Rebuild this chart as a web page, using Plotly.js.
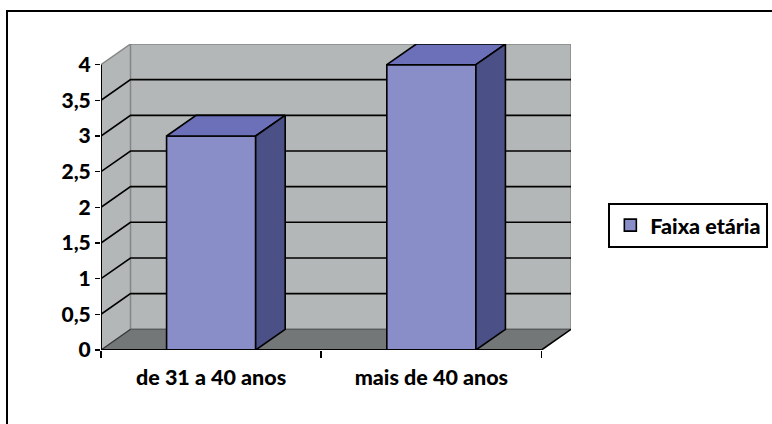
<!DOCTYPE html>
<html><head><meta charset="utf-8">
<script src="https://cdn.plot.ly/plotly-3.0.1.min.js"></script>
<style>
html,body{margin:0;padding:0;background:#fff;}
#chart{width:772px;height:424px;}
#frame{position:absolute;left:6px;top:10px;width:900px;height:600px;border-left:2px solid #000;border-top:2px solid #000;pointer-events:none;z-index:10;}
</style>
</head><body>
<div id="chart"></div><div id="frame"></div>
<script>
const categories = ['de 31 a 40 anos', 'mais de 40 anos'];
const values = [3, 4];
const seriesName = 'Faixa etária';
const yTickVals = [0, 0.5, 1, 1.5, 2, 2.5, 3, 3.5, 4];
const yTickText = ['0', '0,5', '1', '1,5', '2', '2,5', '3', '3,5', '4'];

// 3D projection settings (depth offset in axis units)
const DX = 0.134, DY = 0.29, BW = 0.4045;
const YMAX = yTickVals[yTickVals.length - 1];
const n = categories.length;
const x0 = -0.5, x1 = n - 0.5;
const idx = categories.map((c, i) => i);

const WALL = '#B4B7B7', WALLEDGE = '#858787', FLOOR = '#747777';
const FRONT = '#898DC8', TOP = '#6B70B8', SIDE = '#4B5086';
const FAM = 'Lato, "Open Sans", sans-serif';
const XFONT = {family: FAM, size: 21.5, color: '#000', weight: 900};
const YFONT = {family: FAM, size: 21, color: '#000', weight: 900};
const LFONT = {family: FAM, size: 21.5, color: '#000', weight: 900};

function pth(pts, close) {
  return 'M' + pts.map(p => p[0] + ',' + p[1]).join(' L') + (close ? ' Z' : '');
}
function shp(pts, close, fill, lc, lw, layer) {
  return {type: 'path', xref: 'x', yref: 'y', path: pth(pts, close),
    fillcolor: fill || 'rgba(0,0,0,0)', line: {color: lc || 'rgba(0,0,0,0)', width: lw || 0},
    layer: layer || 'below'};
}

const shapes = [];
// left wall
shapes.push(shp([[x0, 0], [x0 + DX, DY], [x0 + DX, YMAX + DY], [x0, YMAX]], true, WALL, null, 0));
// back wall
shapes.push(shp([[x0 + DX, DY], [x1 + DX, DY], [x1 + DX, YMAX + DY], [x0 + DX, YMAX + DY]], true, WALL, WALLEDGE, 1.5));
// floor
shapes.push(shp([[x0, 0], [x1, 0], [x1 + DX, DY], [x0 + DX, DY]], true, FLOOR, null, 0));
// gridlines
yTickVals.filter(v => v > 0 && v < YMAX).forEach(v => {
  shapes.push(shp([[x0, v], [x0 + DX, v + DY], [x1 + DX, v + DY]], false, null, '#000', 1.6));
});
// wall top edge on left wall
shapes.push(shp([[x0, YMAX], [x0 + DX, YMAX + DY]], false, null, WALLEDGE, 1.5));
// floor edges
shapes.push(shp([[x0 + DX, DY], [x1 + DX, DY]], false, null, '#5a5c5c', 1.2));
shapes.push(shp([[x0, 0], [x0 + DX, DY]], false, null, '#333', 1.2));
shapes.push(shp([[x1, 0], [x1 + DX, DY]], false, null, '#000', 1.6));
// axis lines
shapes.push(shp([[x0, 0], [x0, YMAX]], false, null, '#000', 2, 'above'));
shapes.push(shp([[x0, 0], [x1, 0]], false, null, '#000', 2, 'above'));

const traces = [];
traces.push({
  type: 'bar', x: idx, y: values, width: BW, name: seriesName,
  marker: {color: FRONT, line: {color: '#000', width: 1.6}},
  hoverinfo: 'skip', showlegend: true
});
idx.forEach((c, i) => {
  const v = values[i], l = c - BW / 2, r = c + BW / 2;
  traces.push({
    type: 'scatter', mode: 'lines', fill: 'toself', fillcolor: TOP,
    x: [l, r, r + DX, l + DX, l], y: [v, v, v + DY, v + DY, v],
    line: {color: '#000', width: 1.6}, showlegend: false, hoverinfo: 'skip'
  });
  traces.push({
    type: 'scatter', mode: 'lines', fill: 'toself', fillcolor: SIDE,
    x: [r, r + DX, r + DX, r, r], y: [0, DY, v + DY, v, 0],
    line: {color: '#000', width: 1.6}, showlegend: false, hoverinfo: 'skip'
  });
});

const layout = {
  width: 772, height: 424,
  margin: {l: 101, r: 201, t: 44, b: 74, pad: 0, autoexpand: false},
  paper_bgcolor: '#fff', plot_bgcolor: 'rgba(0,0,0,0)',
  font: XFONT,
  showlegend: true,
  xaxis: {
    type: 'linear', range: [x0, x1 + DX], fixedrange: true,
    tickmode: 'array', tickvals: idx, ticktext: categories,
    ticks: '', showgrid: false, zeroline: false, showline: false,
    tickfont: XFONT, ticklabelstandoff: 12,
    minor: {tickmode: 'array', tickvals: idx.map(i => i - 0.5).concat([n - 0.5]),
      ticks: 'outside', ticklen: 7, tickwidth: 1.6, tickcolor: '#000', showgrid: false}
  },
  yaxis: {
    range: [0, YMAX + DY], fixedrange: true,
    tickmode: 'array', tickvals: yTickVals, ticktext: yTickText,
    ticks: 'outside', ticklen: 5, tickwidth: 1.6, tickcolor: '#000',
    showgrid: false, zeroline: false, showline: false, tickfont: YFONT
  },
  legend: {
    xref: 'container', yref: 'container',
    x: 0.788, y: 0.522, xanchor: 'left', yanchor: 'top',
    bordercolor: '#000', borderwidth: 2, bgcolor: '#fff', font: LFONT,
    itemwidth: 30
  },
  shapes: shapes
};

Plotly.newPlot('chart', traces, layout, {staticPlot: true, displayModeBar: false});
</script>
</body></html>
